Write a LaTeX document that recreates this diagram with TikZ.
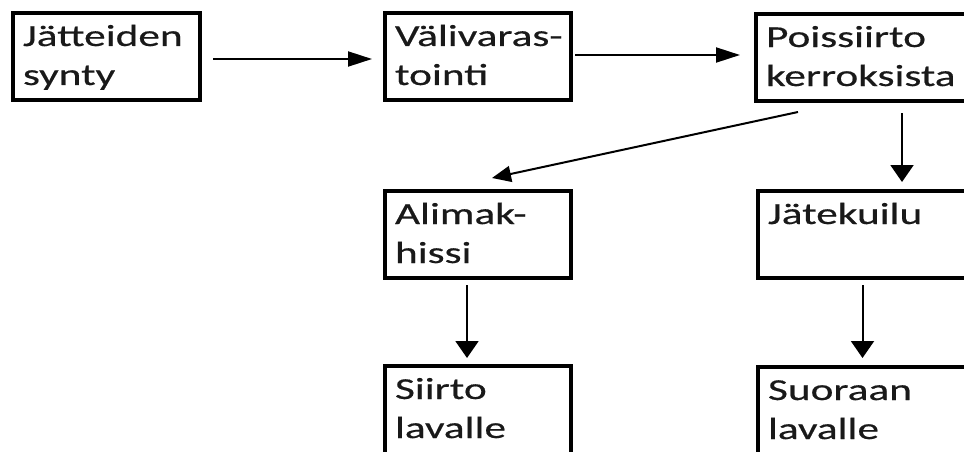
\documentclass[tikz,border=0pt]{standalone}
\usepackage{fontspec}
\setmainfont{Carlito}[FakeStretch=1.42, FakeBold=0.5]
\usetikzlibrary{arrows.meta}

% box contents: width, height, lines of text set from the top-left corner
\newcommand\boxlines[3]{%
  \parbox[c][#2][t]{#1}{\raggedright\leftskip=10pt
    \fontsize{30.5pt}{39pt}\selectfont\rule{0pt}{33pt}#3}}

\tikzset{
  flowbox/.style={draw, line width=3.4pt, inner sep=0pt, outer sep=0pt,
    anchor=north west, text=black!90},
  flowline/.style={line width=2pt},
  hflow/.style={flowline, -{Triangle[length=24pt,width=15pt]}},
  vflow/.style={flowline, -{Triangle[length=17pt,width=23pt]}},
  dflow/.style={flowline, -{Triangle[length=19pt,width=16pt]}},
}

\begin{document}
\begin{tikzpicture}[x=1pt, y=-1pt]
  \clip (0,0) rectangle (964,452);

  % top row
  \node[flowbox] (synty) at (13,13)  {\boxlines{187pt}{87pt}{Jätteiden\\synty}};
  \node[flowbox] (vali)  at (385,13) {\boxlines{186pt}{87pt}{Välivaras-\\tointi}};
  \node[flowbox] (poiss) at (756,14) {\boxlines{212pt}{87pt}{Poissiirto\\kerroksista}};

  % middle row
  \node[flowbox] (alimak) at (385,191) {\boxlines{186pt}{87pt}{Alimak-\\hissi}};
  \node[flowbox] (kuilu)  at (758,191) {\boxlines{210pt}{87pt}{Jätekuilu}};

  % bottom row
  \node[flowbox] (siirto)  at (385,366) {\boxlines{186pt}{88pt}{Siirto\\lavalle}};
  \node[flowbox] (suoraan) at (758,367) {\boxlines{210pt}{88pt}{Suoraan\\lavalle}};

  % connectors
  \draw[hflow, shorten <=13pt, shorten >=13pt]
    ([yshift=-2.5pt]synty.east) -- ([yshift=-2.5pt]vali.west);
  \draw[hflow, shorten <=4pt, shorten >=16pt]
    ([yshift=1.5pt]vali.east) -- ([yshift=2.5pt]poiss.west);
  \draw[dflow]
    ([xshift=42pt,yshift=-11pt]poiss.south west) -- ([xshift=107pt,yshift=13pt]alimak.north west);
  \draw[vflow]
    ([xshift=146pt,yshift=-12pt]poiss.south west) -- ([xshift=144pt,yshift=9pt]kuilu.north west);
  \draw[vflow]
    ([xshift=82pt,yshift=-7pt]alimak.south west) -- ([xshift=82pt,yshift=8pt]siirto.north west);
  \draw[vflow]
    ([xshift=104.5pt,yshift=-7pt]kuilu.south west) -- ([xshift=104.5pt,yshift=9pt]suoraan.north west);
\end{tikzpicture}
\end{document}
